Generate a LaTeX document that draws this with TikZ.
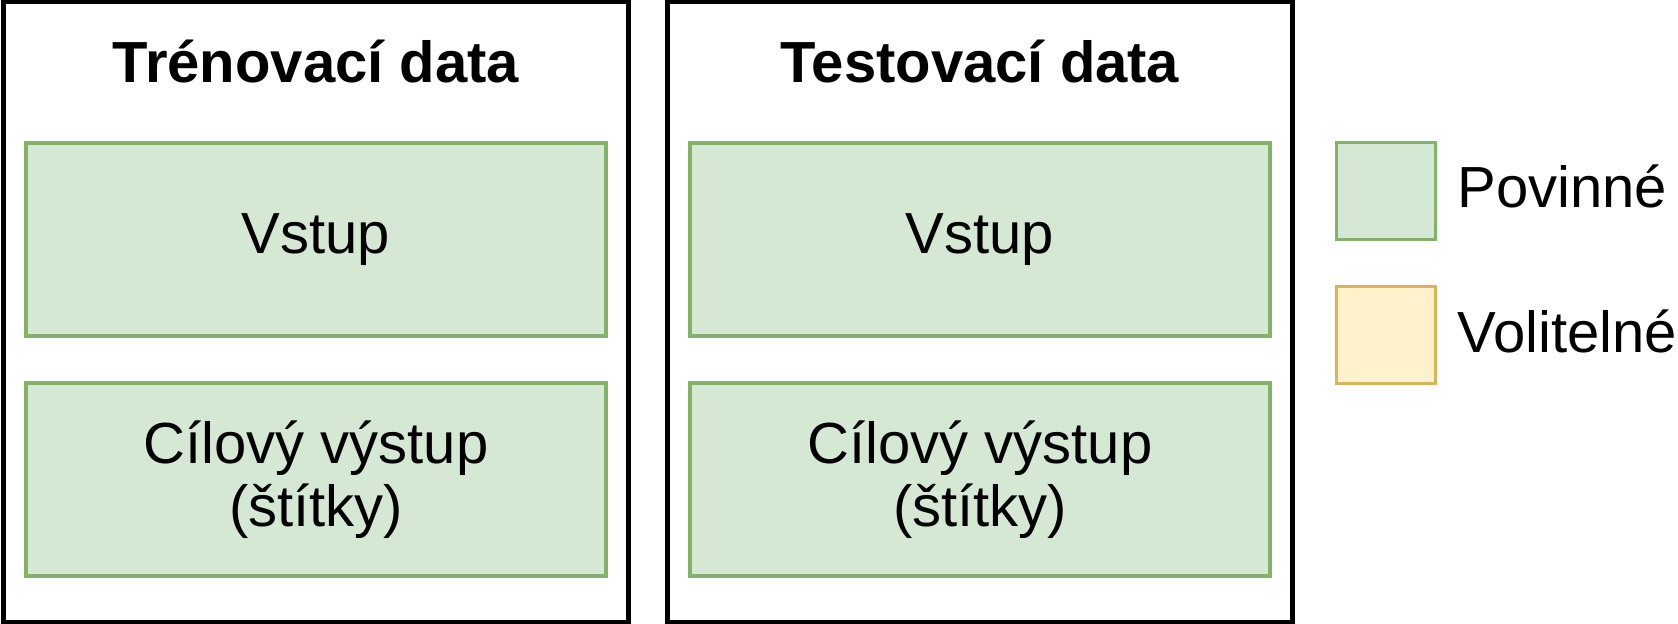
\documentclass[tikz,border=0pt]{standalone}
\usepackage{fontspec}
\setmainfont{Liberation Sans}
\usepackage{tikz}
\definecolor{mustfill}{HTML}{D5E8D4}
\definecolor{mustdraw}{HTML}{82B366}
\definecolor{optfill}{HTML}{FFF2CC}
\definecolor{optdraw}{HTML}{D6B656}
\tikzset{
	dataset/.style={draw=black, line width=1.2pt, fill=white, minimum width=6.25cm, minimum height=6.2cm, inner sep=0pt},
	setname/.style={font=\fontsize{16.5}{18}\selectfont\bfseries, inner sep=0pt},
	part/.style={draw=mustdraw, fill=mustfill, line width=1.1pt, minimum width=5.8cm, minimum height=1.93cm, align=center, font=\fontsize{16.5}{17.9}\selectfont},
	legendbox/.style={line width=1.1pt, minimum width=0.99cm, minimum height=0.97cm, inner sep=0pt},
	legendtext/.style={font=\fontsize{16.5}{18}\selectfont, inner sep=0pt, anchor=base west}
}
\begin{document}
\begin{tikzpicture}[x=0.1mm, y=-0.1mm]
		%% Everything in pixels of the original picture
		\useasboundingbox (0,0) rectangle (1678,624);

		% Training set
		\node[dataset] (train) at (316,312) {};
		\node[setname, anchor=base] (trainName) at (316,83) {Trénovací data};
		\node[part] (trainIn) at (316,239.5) {Vstup};
		\node[part] (trainOut) at (316,479.5) {Cílový výstup\\(štítky)};

		% Test set
		\node[dataset] (test) at (980,312) {};
		\node[setname, anchor=base] (testName) at (980,83) {Testovací data};
		\node[part] (testIn) at (980,239.5) {Vstup};
		\node[part] (testOut) at (980,479.5) {Cílový výstup\\(štítky)};

		% Legend
		\node[legendbox, draw=mustdraw, fill=mustfill] (must) at (1386,191) {};
		\node[legendbox, draw=optdraw, fill=optfill] (opt) at (1386,335) {};
		\node[legendtext] (mustText) at (1457,208) {Povinné};
		\node[legendtext] (optText) at (1457,353) {Volitelné};
	\end{tikzpicture}
\end{document}
